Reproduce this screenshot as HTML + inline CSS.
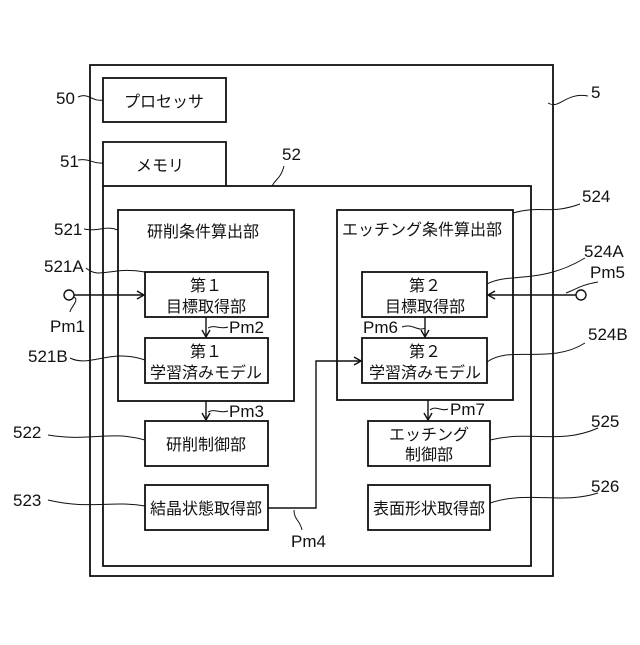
<!DOCTYPE html>
<html><head><meta charset="utf-8"><style>
html,body{margin:0;padding:0;background:#fff}
svg text{font-family:"Liberation Sans","Noto Sans CJK JP",sans-serif;fill:#111}
</style></head><body>
<svg width="640" height="640" viewBox="0 0 640 640" xmlns="http://www.w3.org/2000/svg">
<defs><marker id="a" markerWidth="10" markerHeight="10" refX="8" refY="5" orient="auto" markerUnits="userSpaceOnUse"><path d="M1,1 L8,5 L1,9" fill="none" stroke="#111" stroke-width="1.4"/></marker></defs>
<g fill="none" stroke="#111" stroke-width="1.8">
<rect x="90" y="65" width="463" height="511"/>
<rect x="103" y="78" width="123" height="44"/>
<path d="M103,186 V142 H226 V186"/>
<rect x="103" y="186" width="428" height="380"/>
<rect x="118" y="210" width="176" height="191"/>
<rect x="145" y="272" width="123" height="45"/>
<rect x="145" y="338" width="123" height="45"/>
<rect x="337" y="210" width="176" height="190"/>
<rect x="362" y="272" width="125" height="45"/>
<rect x="362" y="338" width="125" height="45"/>
<rect x="145" y="421" width="123" height="45"/>
<rect x="145" y="485" width="123" height="45"/>
<rect x="368" y="421" width="122" height="45"/>
<rect x="368" y="485" width="122" height="45"/>
</g>
<g fill="none" stroke="#111" stroke-width="1.4">
<circle cx="69" cy="295" r="5"/>
<circle cx="581" cy="295" r="5"/>
<path d="M74,295 H144" marker-end="url(#a)"/>
<path d="M576,295 H488" marker-end="url(#a)"/>
<path d="M206,317 V337" marker-end="url(#a)"/>
<path d="M206,401 V420" marker-end="url(#a)"/>
<path d="M425,317 V337" marker-end="url(#a)"/>
<path d="M428,400 V420" marker-end="url(#a)"/>
<path d="M268,508 H316 V361 H361" marker-end="url(#a)"/>
</g>
<g fill="none" stroke="#111" stroke-width="1">
<path d="M78,97 C88,92 92,102 103,100"/>
<path d="M548,103 C560,110 565,92 588,96"/>
<path d="M78,160 C90,158 92,164 103,163"/>
<path d="M272,186 C276,178 280,180 284,166"/>
<path d="M84,229 C100,232 105,225 118,230"/>
<path d="M86,268 C100,280 110,266 145,272"/>
<path d="M74,297 C80,300 70,308 70,312"/>
<path d="M70,358 C90,368 110,348 145,360"/>
<path d="M208,328 C215,324 220,330 228,327"/>
<path d="M208,412 C215,408 220,414 228,411"/>
<path d="M48,435 C90,442 110,430 145,440"/>
<path d="M48,500 C90,510 110,500 145,506"/>
<path d="M294,510 C294,520 300,520 302,530"/>
<path d="M513,213 C540,205 550,215 580,204"/>
<path d="M487,284 C510,272 540,285 585,258"/>
<path d="M566,293 C575,290 580,285 598,282"/>
<path d="M487,362 C510,345 550,365 585,343"/>
<path d="M402,327 C412,323 418,332 425,328"/>
<path d="M430,410 C436,405 442,412 448,409"/>
<path d="M490,440 C530,430 560,445 598,428"/>
<path d="M490,503 C530,490 560,505 598,493"/>
</g>
<g font-size="16">
<text x="124" y="107">プロセッサ</text>
<text x="136" y="171">メモリ</text>
<text x="147" y="237">研削条件算出部</text>
<text x="342" y="235">エッチング条件算出部</text>
<g text-anchor="middle">
<text x="206" y="291">第１</text><text x="206" y="312">目標取得部</text>
<text x="206" y="357">第１</text><text x="206" y="378">学習済みモデル</text>
<text x="425" y="291">第２</text><text x="425" y="312">目標取得部</text>
<text x="425" y="357">第２</text><text x="425" y="378">学習済みモデル</text>
<text x="206" y="450">研削制御部</text>
<text x="206" y="514">結晶状態取得部</text>
<text x="429" y="440">エッチング</text><text x="429" y="460">制御部</text>
<text x="429" y="514">表面形状取得部</text>
</g>
</g>
<g font-size="17">
<text x="56" y="104">50</text>
<text x="591" y="98">5</text>
<text x="60" y="167">51</text>
<text x="282" y="160">52</text>
<text x="54" y="235">521</text>
<text x="44" y="272">521A</text>
<text x="50" y="332">Pm1</text>
<text x="28" y="362">521B</text>
<text x="229" y="333">Pm2</text>
<text x="229" y="417">Pm3</text>
<text x="13" y="438">522</text>
<text x="13" y="506">523</text>
<text x="291" y="547">Pm4</text>
<text x="582" y="202">524</text>
<text x="584" y="257">524A</text>
<text x="590" y="278">Pm5</text>
<text x="588" y="340">524B</text>
<text x="363" y="333">Pm6</text>
<text x="450" y="415">Pm7</text>
<text x="591" y="427">525</text>
<text x="591" y="492">526</text>
</g>
</svg>
</body></html>
